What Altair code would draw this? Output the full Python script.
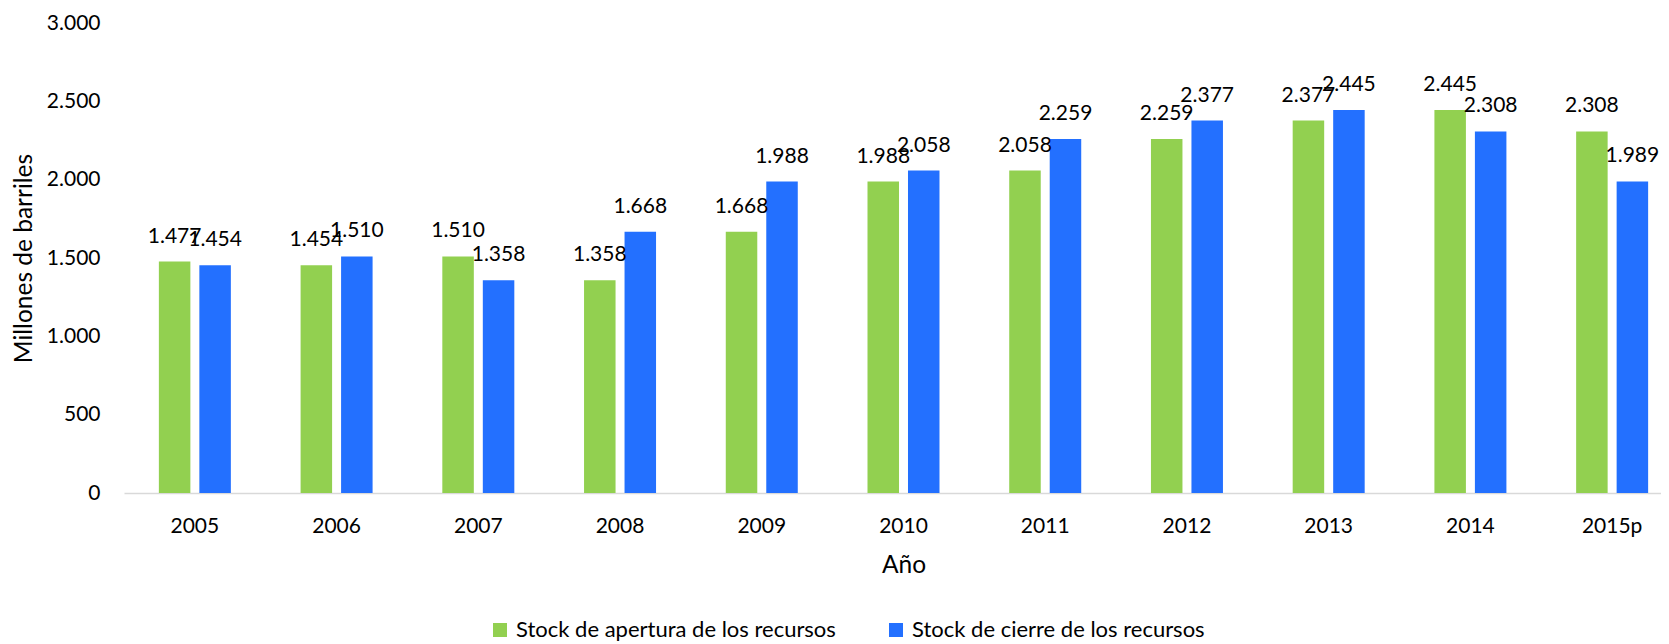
import altair as alt
import pandas as pd

years = ["2005", "2006", "2007", "2008", "2009", "2010", "2011", "2012", "2013", "2014", "2015p"]
apertura = [1477, 1454, 1510, 1358, 1668, 1988, 2058, 2259, 2377, 2445, 2308]
cierre = [1454, 1510, 1358, 1668, 1988, 2058, 2259, 2377, 2445, 2308, 1989]
series = ["Stock de apertura de los recursos", "Stock de cierre de los recursos"]
colors = ["#92D050", "#2370FF"]
y_ticks = [0, 500, 1000, 1500, 2000, 2500, 3000]

rows = []
for yr, a, c in zip(years, apertura, cierre):
    rows.append({"anio": yr, "serie": series[0], "valor": a})
    rows.append({"anio": yr, "serie": series[1], "valor": c})
df = pd.DataFrame(rows)

FONT = "Lato"

x = alt.X(
    "anio:N",
    sort=years,
    scale=alt.Scale(range=[0, 1559], paddingInner=0.492, paddingOuter=0.246),
    axis=alt.Axis(
        title="Año",
        labelAngle=0,
        labelFont=FONT,
        labelFontSize=21,
        labelColor="#000000",
        labelPadding=22,
        ticks=False,
        tickSize=0,
        domainColor="#D9D9D9",
        domainWidth=1.5,
        titleFont=FONT,
        titleFontSize=24.5,
        titleFontWeight="normal",
        titleColor="#000000",
        titleY=79,
        titleBaseline="alphabetic",
    ),
)
xoff = alt.XOffset("serie:N", sort=series, scale=alt.Scale(paddingInner=0.222, paddingOuter=0))
y = alt.Y(
    "valor:Q",
    scale=alt.Scale(domain=[0, 3000], nice=False),
    axis=alt.Axis(
        values=y_ticks,
        labelExpr="replace(format(datum.value, ','), ',', '.')",
        grid=False,
        domain=False,
        ticks=False,
        tickSize=0,
        labelPadding=24,
        labelFont=FONT,
        labelFontSize=21,
        labelColor="#000000",
        title="Millones de barriles",
        titleFont=FONT,
        titleFontSize=24.5,
        titleFontWeight="normal",
        titleColor="#000000",
        titleX=-100,
        titleY=235,
        titleAngle=270,
        titleAlign="center",
        titleBaseline="middle",
    ),
)
color = alt.Color(
    "serie:N",
    scale=alt.Scale(domain=series, range=colors),
    legend=alt.Legend(
        title=None,
        orient="none",
        legendX=365,
        legendY=596,
        direction="horizontal",
        symbolType="square",
        symbolSize=196,
        symbolStrokeWidth=0,
        labelFont=FONT,
        labelFontSize=22,
        labelLimit=0,
        labelColor="#000000",
        labelOffset=5,
        columnPadding=49,
    ),
)

base = alt.Chart(df)
bars = base.mark_bar().encode(x=x, xOffset=xoff, y=y, color=color)
labels = base.transform_calculate(
    etiqueta="replace(format(datum.valor, ','), ',', '.')"
).mark_text(dy=-19, baseline="alphabetic", align="center", font=FONT, fontSize=21, color="#000000").encode(
    x=x, xOffset=xoff, y=y, text="etiqueta:N"
)

chart = (
    alt.layer(bars, labels)
    .properties(
        width=1537,
        height=470,
        autosize=alt.AutoSizeParams(type="none"),
        padding={"left": 116, "top": 15, "right": 0, "bottom": 151},
    )
    .configure_view(stroke=None)
)

chart.save("out.html", embed_options={"renderer": "svg", "actions": False})
